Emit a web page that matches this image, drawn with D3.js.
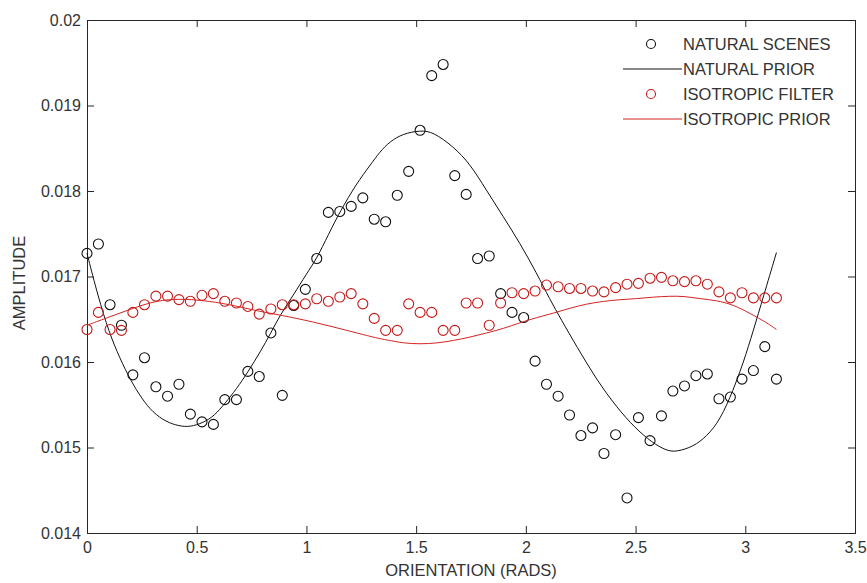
<!DOCTYPE html>
<html>
<head>
<meta charset="utf-8">
<script src="https://cdn.jsdelivr.net/npm/d3@7"></script>
<style>
  html, body { margin: 0; padding: 0; background: #fff; }
  svg { display: block; font-family: "Liberation Sans", Arial, sans-serif; }
</style>
</head>
<body>
<svg id="chart" width="867" height="583"></svg>
<script>
// ---------- DATA ----------
const orientation = [
  0.000, 0.052, 0.105, 0.157, 0.209, 0.262, 0.314, 0.367, 0.419, 0.471,
  0.524, 0.576, 0.628, 0.681, 0.733, 0.785, 0.838, 0.890, 0.942, 0.995,
  1.047, 1.100, 1.152, 1.204, 1.257, 1.309, 1.361, 1.414, 1.466, 1.518,
  1.571, 1.623, 1.676, 1.728, 1.780, 1.833, 1.885, 1.937, 1.990, 2.042,
  2.094, 2.147, 2.199, 2.251, 2.304, 2.356, 2.409, 2.461, 2.513, 2.566,
  2.618, 2.670, 2.723, 2.775, 2.827, 2.880, 2.932, 2.985, 3.037, 3.089,
  3.142
];
const naturalScenes = [
  0.01727, 0.01738, 0.01667, 0.01643, 0.01585, 0.01605, 0.01571, 0.01560, 0.01574, 0.01539,
  0.01530, 0.01527, 0.01556, 0.01556, 0.01589, 0.01583, 0.01634, 0.01561, 0.01666, 0.01685,
  0.01721, 0.01775, 0.01776, 0.01782, 0.01792, 0.01767, 0.01764, 0.01795, 0.01823, 0.01871,
  0.01935, 0.01948, 0.01818, 0.01796, 0.01721, 0.01724, 0.01680, 0.01658, 0.01652, 0.01601,
  0.01574, 0.01560, 0.01538, 0.01514, 0.01523, 0.01493, 0.01515, 0.01441, 0.01535, 0.01508,
  0.01537, 0.01566, 0.01572, 0.01584, 0.01586, 0.01557, 0.01559, 0.01580, 0.01590, 0.01618,
  0.01580
];
const isotropicFilter = [
  0.01638, 0.01658, 0.01638, 0.01637, 0.01658, 0.01667, 0.01677, 0.01677, 0.01673, 0.01671,
  0.01678, 0.01680, 0.01671, 0.01669, 0.01665, 0.01656, 0.01662, 0.01667, 0.01667, 0.01668,
  0.01674, 0.01671, 0.01676, 0.01680, 0.01668, 0.01651, 0.01637, 0.01637, 0.01668, 0.01658,
  0.01658, 0.01637, 0.01637, 0.01669, 0.01669, 0.01643, 0.01669, 0.01681, 0.01680, 0.01683,
  0.01690, 0.01688, 0.01686, 0.01686, 0.01683, 0.01682, 0.01687, 0.01691, 0.01692, 0.01698,
  0.01699, 0.01695, 0.01694, 0.01695, 0.01691, 0.01682, 0.01675, 0.01681, 0.01675, 0.01675,
  0.01675
];
const naturalPriorX = [
  0.000, 0.050, 0.100, 0.150, 0.200, 0.250, 0.300, 0.360, 0.420, 0.470,
  0.530, 0.580, 0.630, 0.680, 0.735, 0.790, 0.838, 0.880, 0.940, 1.000,
  1.047, 1.100, 1.153, 1.229, 1.290, 1.335, 1.381, 1.440, 1.520, 1.578,
  1.669, 1.745, 1.820, 1.897, 1.973, 2.049, 2.110, 2.160, 2.232, 2.323,
  2.414, 2.497, 2.574, 2.642, 2.687, 2.763, 2.824, 2.885, 2.945, 2.991,
  3.037, 3.082, 3.142
];
const naturalPriorY = [
  0.01727, 0.01677, 0.01635, 0.01604, 0.01578, 0.01557, 0.01541, 0.01530, 0.01525, 0.01524,
  0.01529, 0.01537, 0.01552, 0.01568, 0.01589, 0.01612, 0.01634, 0.01655, 0.01678, 0.01703,
  0.01721, 0.01749, 0.01776, 0.01809, 0.01830, 0.01846, 0.01858, 0.01867, 0.01871, 0.01869,
  0.01852, 0.01832, 0.01801, 0.01770, 0.01739, 0.01704, 0.01673, 0.01650, 0.01618, 0.01579,
  0.01547, 0.01523, 0.01506, 0.01496, 0.01495, 0.01501, 0.01513, 0.01532, 0.01567, 0.01599,
  0.01637, 0.01676, 0.01728
];
const isotropicPriorX = [
  0.000, 0.105, 0.211, 0.318, 0.424, 0.530, 0.637, 0.788, 0.880, 1.031,
  1.184, 1.335, 1.366, 1.441, 1.518, 1.594, 1.669, 1.745, 1.822, 1.897,
  1.973, 2.049, 2.125, 2.201, 2.277, 2.353, 2.429, 2.505, 2.581, 2.657,
  2.718, 2.794, 2.870, 2.945, 3.021, 3.098, 3.142
];
const isotropicPriorY = [
  0.01643, 0.01653, 0.01663, 0.01672, 0.01674, 0.01672, 0.01668, 0.01659, 0.01655, 0.01647,
  0.01637, 0.01627, 0.01626, 0.01622, 0.01621, 0.01622, 0.01625, 0.01629, 0.01634, 0.01639,
  0.01646, 0.01652, 0.01657, 0.01663, 0.01668, 0.01671, 0.01673, 0.01674, 0.01676, 0.01677,
  0.01677, 0.01674, 0.01672, 0.01667, 0.01657, 0.01646, 0.01638
];
const xTicks = [0, 0.5, 1, 1.5, 2, 2.5, 3, 3.5];
const xTickLabels = ["0", "0.5", "1", "1.5", "2", "2.5", "3", "3.5"];
const yTicks = [0.014, 0.015, 0.016, 0.017, 0.018, 0.019, 0.02];
const yTickLabels = ["0.014", "0.015", "0.016", "0.017", "0.018", "0.019", "0.02"];
const legendLabels = ["NATURAL SCENES", "NATURAL PRIOR", "ISOTROPIC FILTER", "ISOTROPIC PRIOR"];
const xTitle = "ORIENTATION (RADS)";
const yTitle = "AMPLITUDE";

// ---------- LAYOUT ----------
const L = 87, R = 855, T = 20, B = 533;
const axisColor = "#262626";
const textColor = "#333";
const black = "#111";
const redMarker = "#c41a1a";
const redLine = "#d42424";

const svg = d3.select("#chart");
svg.append("rect").attr("width", 867).attr("height", 583).attr("fill", "#fff");

const x = d3.scaleLinear().domain([0, 3.5]).range([L, R]);
const y = d3.scaleLinear().domain([0.014, 0.02]).range([B, T]);

// axes
function styleAxis(g) {
  g.select(".domain").remove();
  g.selectAll(".tick line").attr("stroke", axisColor).attr("stroke-width", 1);
  g.selectAll(".tick text").attr("fill", textColor).style("font-size", "16px")
    .style("font-family", '"Liberation Sans", Arial, sans-serif');
}
svg.append("g").attr("transform", `translate(0,${B})`)
  .call(d3.axisBottom(x).tickValues(xTicks).tickFormat((d, i) => xTickLabels[i])
    .tickSizeInner(-7).tickSizeOuter(0).tickPadding(9))
  .call(styleAxis);
svg.append("g").attr("transform", `translate(0,${T})`)
  .call(d3.axisTop(x).tickValues(xTicks).tickFormat("")
    .tickSizeInner(-7).tickSizeOuter(0))
  .call(styleAxis);
svg.append("g").attr("transform", `translate(${L},0)`)
  .call(d3.axisLeft(y).tickValues(yTicks).tickFormat((d, i) => yTickLabels[i])
    .tickSizeInner(-7).tickSizeOuter(0).tickPadding(6))
  .call(styleAxis);
svg.append("g").attr("transform", `translate(${R},0)`)
  .call(d3.axisRight(y).tickValues(yTicks).tickFormat("")
    .tickSizeInner(-7).tickSizeOuter(0))
  .call(styleAxis);

svg.append("rect").attr("x", L + 0.5).attr("y", T + 0.5)
  .attr("width", R - L).attr("height", B - T)
  .attr("fill", "none").attr("stroke", axisColor).attr("stroke-width", 1);

// titles
svg.append("text").attr("x", (L + R) / 2).attr("y", 570)
  .attr("text-anchor", "middle").attr("dominant-baseline", "central")
  .attr("fill", textColor).style("font-size", "16.5px").text(xTitle);
svg.append("text").attr("transform", "translate(19,283) rotate(-90)")
  .attr("text-anchor", "middle").attr("dominant-baseline", "central")
  .attr("fill", textColor).style("font-size", "16.5px").text(yTitle);

// series
const line = d3.line().curve(d3.curveBasis);

svg.append("g").selectAll("circle").data(orientation).join("circle")
  .attr("cx", d => x(d)).attr("cy", (d, i) => y(naturalScenes[i])).attr("r", 5)
  .attr("fill", "none").attr("stroke", black).attr("stroke-width", 1.1);

svg.append("path")
  .attr("d", line(naturalPriorX.map((d, i) => [x(d), y(naturalPriorY[i])])))
  .attr("fill", "none").attr("stroke", black).attr("stroke-width", 1);

svg.append("g").selectAll("circle").data(orientation).join("circle")
  .attr("cx", d => x(d)).attr("cy", (d, i) => y(isotropicFilter[i])).attr("r", 5)
  .attr("fill", "none").attr("stroke", redMarker).attr("stroke-width", 1.1);

svg.append("path")
  .attr("d", line(isotropicPriorX.map((d, i) => [x(d), y(isotropicPriorY[i])])))
  .attr("fill", "none").attr("stroke", redLine).attr("stroke-width", 1);

// legend
const legendRows = [44, 69, 94, 119];
const legend = svg.append("g");
legendLabels.forEach((lab, i) => {
  const cy = legendRows[i];
  const col = i < 2 ? black : (i === 2 ? redMarker : redLine);
  if (i % 2 === 0) {
    legend.append("circle").attr("cx", 651).attr("cy", cy).attr("r", 4.5)
      .attr("fill", "none").attr("stroke", col).attr("stroke-width", 1.1);
  } else {
    legend.append("line").attr("x1", 623).attr("x2", 682).attr("y1", cy).attr("y2", cy)
      .attr("stroke", col).attr("stroke-width", 1);
  }
  legend.append("text").attr("x", 683).attr("y", cy)
    .attr("dominant-baseline", "central").attr("fill", textColor)
    .style("font-size", "16.5px").text(lab);
});
</script>
</body>
</html>
